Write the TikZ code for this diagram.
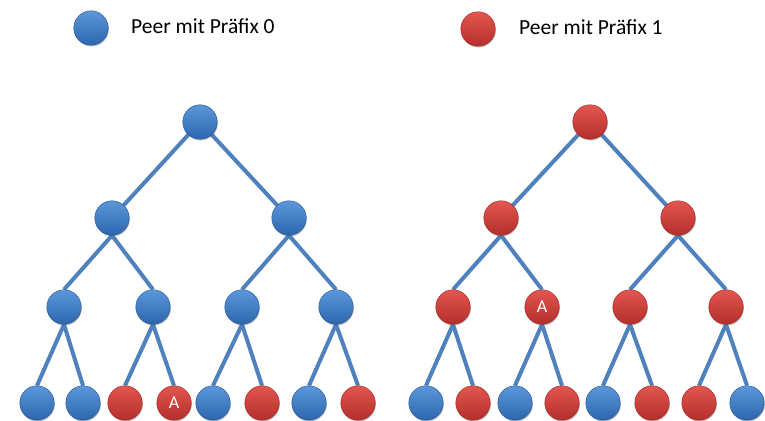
\documentclass[tikz,border=0pt]{standalone}
\usepackage{fontspec}
\setmainfont{Carlito}
\usetikzlibrary{backgrounds,shadows}
\definecolor{bluetop}{HTML}{5C97DA}
\definecolor{bluebot}{HTML}{2C66AE}
\definecolor{redtop}{HTML}{E2574F}
\definecolor{redbot}{HTML}{B52E2B}
\definecolor{edgecol}{HTML}{4F81BD}
\tikzset{
  peer/.style={circle, minimum size=34.5pt, inner sep=0pt, text=white,
    font=\fontsize{18}{18}\selectfont,
    drop shadow={shadow xshift=0.6pt, shadow yshift=-1.2pt, opacity=0.35, fill=black!70}},
  bpeer/.style={peer, top color=bluetop, bottom color=bluebot, draw=bluebot!85!black, line width=0.4pt},
  rpeer/.style={peer, top color=redtop, bottom color=redbot, draw=redbot!85!black, line width=0.4pt},
  link/.style={draw=edgecol, line width=4pt},
  legend/.style={anchor=base west, inner sep=0pt, font=\fontsize{21.5}{22}\selectfont, text=black}
}
\begin{document}
\begin{tikzpicture}[x=1pt,y=-1pt]
\begin{scope}[on background layer]
\fill[white] (0,0) rectangle (765,420);
\end{scope}
% legend
\node[bpeer] (lgb) at (91,28) {};
\node[legend] (lgbt) at (131,34) {Peer mit Präfix 0};
\node[rpeer] (lgr) at (478,29) {};
\node[legend] (lgrt) at (519,35) {Peer mit Präfix 1};
% left tree
\node[bpeer] (Lr) at (200,122) {};
\node[bpeer] (La) at (112,218) {};
\node[bpeer] (Lb) at (289,218) {};
\node[bpeer] (Lc) at (64,307) {};
\node[bpeer] (Ld) at (153,307) {};
\node[bpeer] (Le) at (242,307) {};
\node[bpeer] (Lf) at (336,307) {};
\node[bpeer] (L1) at (37,403) {};
\node[bpeer] (L2) at (83,403) {};
\node[rpeer] (L3) at (125,403) {};
\node[rpeer] (L4) at (174,403) {A};
\node[bpeer] (L5) at (213,403) {};
\node[rpeer] (L6) at (262,403) {};
\node[bpeer] (L7) at (309,403) {};
\node[rpeer] (L8) at (358,403) {};
% right tree
\node[rpeer] (Rr) at (590,122) {};
\node[rpeer] (Ra) at (501,218) {};
\node[rpeer] (Rb) at (678,218) {};
\node[rpeer] (Rc) at (453,307) {};
\node[rpeer] (Rd) at (542,307) {A};
\node[rpeer] (Re) at (630,307) {};
\node[rpeer] (Rf) at (726,307) {};
\node[bpeer] (R1) at (426,403) {};
\node[rpeer] (R2) at (473,403) {};
\node[bpeer] (R3) at (515,403) {};
\node[rpeer] (R4) at (562,403) {};
\node[bpeer] (R5) at (603,403) {};
\node[rpeer] (R6) at (652,403) {};
\node[rpeer] (R7) at (699,403) {};
\node[bpeer] (R8) at (747,403) {};
% edges
\begin{scope}[on background layer]
\foreach \t in {L,R}{
  \draw[link] (\t r.center) -- (\t a.center);
  \draw[link] (\t r.center) -- (\t b.center);
  \draw[link] (\t a.south) -- (\t c.north);
  \draw[link] (\t a.south) -- (\t d.north);
  \draw[link] (\t b.south) -- (\t e.north);
  \draw[link] (\t b.south) -- (\t f.north);
  \draw[link] (\t c.south) -- (\t 1.north);
  \draw[link] (\t c.south) -- (\t 2.north);
  \draw[link] (\t d.south) -- (\t 3.north);
  \draw[link] (\t d.south) -- (\t 4.north);
  \draw[link] (\t e.south) -- (\t 5.north);
  \draw[link] (\t e.south) -- (\t 6.north);
  \draw[link] (\t f.south) -- (\t 7.north);
  \draw[link] (\t f.south) -- (\t 8.north);
}
\end{scope}
\pgfresetboundingbox
\useasboundingbox (0,0) rectangle (765,420);
\end{tikzpicture}
\end{document}
